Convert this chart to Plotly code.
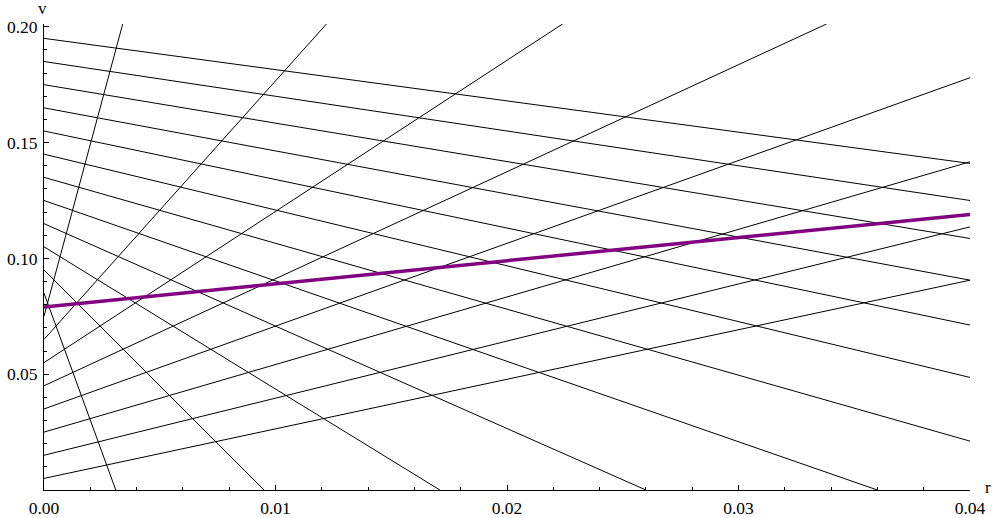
import plotly.graph_objects as go

# Decreasing characteristic lines: value at r=0 and where each leaves the plot
dec_v0 = [0.195, 0.185, 0.175, 0.165, 0.155, 0.145, 0.135, 0.125, 0.115, 0.105, 0.095, 0.085]
dec_end_r = [0.04, 0.04, 0.04, 0.04, 0.04, 0.04, 0.04, 0.0360, 0.0260, 0.0171, 0.0095, 0.0031]
dec_end_v = [0.141, 0.125, 0.1086, 0.0906, 0.0712, 0.0486, 0.0211, 0.0, 0.0, 0.0, 0.0, 0.0]

# Increasing characteristic lines
inc_v0 = [0.005, 0.015, 0.025, 0.035, 0.045, 0.055, 0.065, 0.075]
inc_end_r = [0.04, 0.04, 0.04, 0.04, 0.0338, 0.0224, 0.0122, 0.0034]
inc_end_v = [0.0906, 0.1136, 0.1417, 0.178, 0.2012, 0.2012, 0.2012, 0.2012]

# Highlighted (purple) line
purple_r = [0.0, 0.04]
purple_v = [0.079, 0.119]

x_ticks = [0.0, 0.01, 0.02, 0.03, 0.04]
x_ticklabels = ["0.00", "0.01", "0.02", "0.03", "0.04"]
y_ticks = [0.05, 0.10, 0.15, 0.20]
y_ticklabels = ["0.05", "0.10", "0.15", "0.20"]

FONT = "Liberation Serif"

fig = go.Figure()
for v0, r1, v1 in zip(dec_v0, dec_end_r, dec_end_v):
    fig.add_trace(go.Scatter(x=[0.0, r1], y=[v0, v1], mode="lines",
                             line=dict(color="black", width=1), showlegend=False,
                             hoverinfo="skip"))
for v0, r1, v1 in zip(inc_v0, inc_end_r, inc_end_v):
    fig.add_trace(go.Scatter(x=[0.0, r1], y=[v0, v1], mode="lines",
                             line=dict(color="black", width=1), showlegend=False,
                             hoverinfo="skip"))
fig.add_trace(go.Scatter(x=purple_r, y=purple_v, mode="lines",
                         line=dict(color="#800080", width=3.5), showlegend=False,
                         hoverinfo="skip"))

fig.update_layout(
    width=992, height=518,
    margin=dict(l=44, r=22, t=24, b=28),
    paper_bgcolor="white", plot_bgcolor="white",
    font=dict(family=FONT, size=17.5, color="black"),
    xaxis=dict(range=[0, 0.04], showgrid=False, zeroline=False, automargin=False,
               showline=True, linecolor="black", linewidth=1,
               ticks="inside", ticklen=5, tickwidth=1, tickcolor="black",
               tickmode="array", tickvals=x_ticks, ticktext=x_ticklabels,
               ticklabelstandoff=2,
               minor=dict(ticks="inside", ticklen=3, dtick=0.002, tick0=0,
                          tickcolor="black", showgrid=False)),
    yaxis=dict(range=[0, 0.2012], showgrid=False, zeroline=False, automargin=False,
               showline=True, linecolor="black", linewidth=1,
               ticks="inside", ticklen=5, tickwidth=1, tickcolor="black",
               tickmode="array", tickvals=y_ticks, ticktext=y_ticklabels,
               ticklabelstandoff=2,
               minor=dict(ticks="inside", ticklen=3, dtick=0.01, tick0=0,
                          tickcolor="black", showgrid=False)),
)

fig.add_annotation(text="v", xref="paper", yref="paper", x=0, y=1,
                   xanchor="center", yanchor="bottom", yshift=4, xshift=-2,
                   showarrow=False, font=dict(family=FONT, size=17))
fig.add_annotation(text="r", xref="paper", yref="paper", x=1, y=0,
                   xanchor="left", yanchor="middle", xshift=13, yshift=3,
                   showarrow=False, font=dict(family=FONT, size=17))

fig.write_html("out.html",
               config={"displayModeBar": False},
               post_script="document.body.style.margin='0px';"
                           "document.body.style.overflow='hidden';")
